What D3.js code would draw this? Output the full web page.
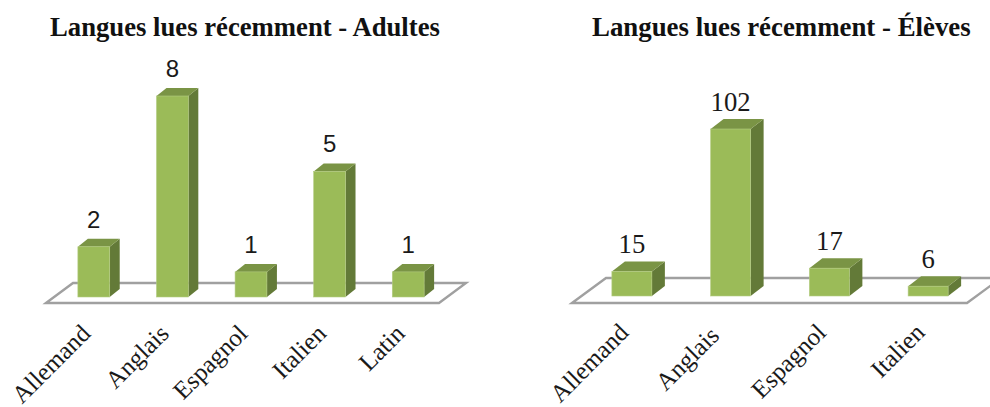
<!DOCTYPE html>
<html>
<head>
<meta charset="utf-8">
<script src="https://cdn.jsdelivr.net/npm/d3@7"></script>
<style>
  html, body { margin: 0; padding: 0; background: #fff; overflow: hidden; }
  svg { display: block; }
</style>
</head>
<body>
<svg id="chart" width="990" height="407"></svg>
<script>
// Values
const adultCategories = ["Allemand", "Anglais", "Espagnol", "Italien", "Latin"];
const adultValues = [2, 8, 1, 5, 1];
const studentCategories = ["Allemand", "Anglais", "Espagnol", "Italien"];
const studentValues = [15, 102, 17, 6];

const svg = d3.select("#chart");

// soft edge, the source picture is a slightly blurred screenshot
svg.append("defs").append("filter")
  .attr("id", "soft")
  .append("feGaussianBlur")
  .attr("stdDeviation", 0.4);

function drawPanel(cfg) {
  const g = svg.append("g");

  // floor plane
  const floorY = [cfg.floorBack, cfg.floorFront];
  const skew = cfg.floorSkew;
  g.append("path")
    .attr("d", `M${cfg.left},${floorY[1]} L${cfg.left + skew},${floorY[0]} L${cfg.left + cfg.width + skew},${floorY[0]} L${cfg.left + cfg.width},${floorY[1]} Z`)
    .attr("fill", "#fff")
    .attr("stroke", "#a0a0a0")
    .attr("stroke-width", 2.4)
    .attr("filter", "url(#soft)");

  const barOffset = (skew - cfg.dx) / 2;
  const x = d3.scaleBand()
    .domain(cfg.categories)
    .range([cfg.left + barOffset, cfg.left + cfg.width + barOffset])
    .paddingInner(cfg.padding)
    .paddingOuter(cfg.padding / 2);

  const y = d3.scaleLinear()
    .domain([0, cfg.maxValue])
    .range([cfg.base, cfg.top]);

  const bars = g.selectAll("g.bar")
    .data(cfg.categories.map((c, i) => ({ cat: c, value: cfg.values[i] })))
    .enter()
    .append("g")
    .attr("class", "bar")
    .attr("filter", "url(#soft)");

  // right side
  bars.append("path")
    .attr("fill", "#647a37")
    .attr("d", d => {
      const r = x(d.cat) + x.bandwidth();
      return `M${r},${y(d.value)} l${cfg.dx},${-cfg.dy} V${cfg.base - cfg.dy} L${r},${cfg.base} Z`;
    });

  // top face
  bars.append("path")
    .attr("fill", "#7a9444")
    .attr("d", d => {
      const l = x(d.cat);
      return `M${l},${y(d.value)} l${cfg.dx},${-cfg.dy} h${x.bandwidth()} l${-cfg.dx},${cfg.dy} Z`;
    });

  // front face
  bars.append("rect")
    .attr("x", d => x(d.cat))
    .attr("y", d => y(d.value))
    .attr("width", x.bandwidth())
    .attr("height", d => cfg.base - y(d.value))
    .attr("fill", "#9bbb59")
    .attr("stroke", "#b4cc82")
    .attr("stroke-width", 0.6);

  // data labels
  g.selectAll("text.value")
    .data(cfg.categories.map((c, i) => ({ cat: c, value: cfg.values[i] })))
    .enter()
    .append("text")
    .attr("class", "value")
    .attr("x", d => x(d.cat) + x.bandwidth() / 2)
    .attr("y", d => y(d.value) - cfg.dy - cfg.labelGap)
    .attr("text-anchor", "middle")
    .attr("fill", "#1a1a1a")
    .style("font-family", cfg.labelFont)
    .style("font-size", cfg.labelSize + "px")
    .text(d => d.value);

  // category axis, only the rotated labels are visible
  const axis = g.append("g")
    .attr("transform", `translate(0,${cfg.base})`)
    .call(d3.axisBottom(x).tickSize(0));
  axis.select(".domain").remove();
  axis.selectAll("text")
    .attr("text-anchor", "end")
    .attr("fill", "#1a1a1a")
    .attr("x", 0)
    .attr("y", 0)
    .attr("dy", 0)
    .attr("transform", d => {
      // "Anglais" sits lower and further left in the second chart
      const nudge = cfg.nudge && cfg.nudge[0] === d ? cfg.nudge : [d, 0, 0];
      return `translate(${-2 + nudge[1]},${38 + nudge[2]}) rotate(-45)`;
    })
    .style("font-family", "'Liberation Serif', serif")
    .style("font-size", "25px");

  // title
  g.append("text")
    .attr("x", cfg.titleX)
    .attr("y", 36)
    .attr("fill", "#111")
    .style("font-family", "'Liberation Serif', serif")
    .style("font-weight", "bold")
    .style("font-size", cfg.titleSize + "px")
    .text(cfg.title);
}

drawPanel({
  title: "Langues lues récemment - Adultes",
  titleX: 50,
  titleSize: 26.7,
  categories: adultCategories,
  values: adultValues,
  maxValue: 8,
  left: 46,
  width: 393,
  floorSkew: 27,
  floorBack: 283,
  floorFront: 303,
  base: 297,
  top: 96,
  dx: 10,
  dy: 8,
  padding: 0.595,
  labelFont: "'Liberation Sans', sans-serif",
  labelSize: 24,
  labelGap: 11
});

drawPanel({
  title: "Langues lues récemment - Élèves",
  titleX: 592,
  titleSize: 26.85,
  categories: studentCategories,
  values: studentValues,
  maxValue: 102,
  left: 572,
  width: 395,
  floorSkew: 34,
  floorBack: 278,
  floorFront: 303,
  base: 296,
  top: 129,
  dx: 13,
  dy: 10,
  padding: 0.595,
  labelFont: "'Liberation Serif', serif",
  labelSize: 26.7,
  labelGap: 8,
  nudge: ["Anglais", -8, 3]
});
</script>
</body>
</html>
